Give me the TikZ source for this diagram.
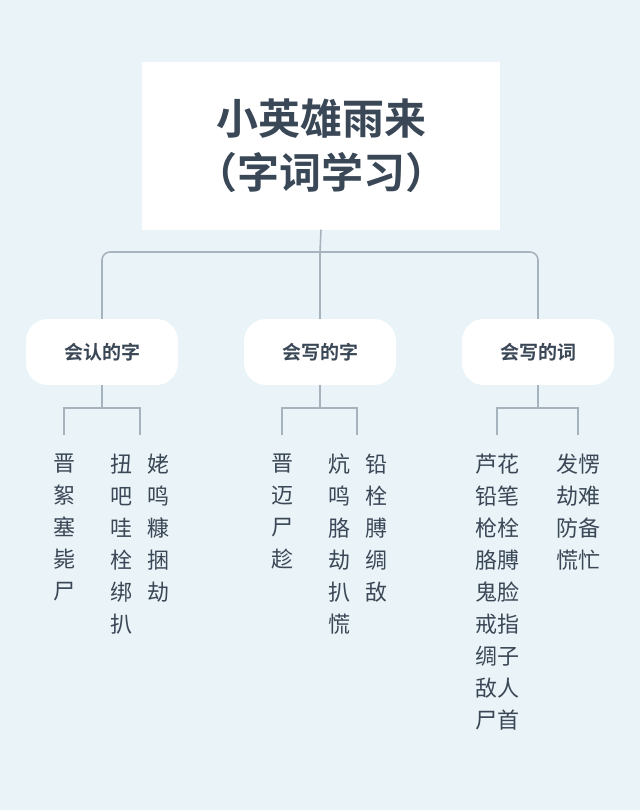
\documentclass[tikz,border=0pt]{standalone}
\usepackage{fontspec}
\setmainfont{Noto Sans CJK SC}
\newfontfamily\cjkb{Noto Sans CJK SC Bold}
\definecolor{bgc}{HTML}{EAF3F8}
\definecolor{ink}{HTML}{3A4756}
\definecolor{lnc}{HTML}{A7B3BC}
\tikzset{x=1pt,y=-1pt,
 conn/.style={draw=lnc,line width=1.6pt,rounded corners=8pt},
 catbox/.style={fill=white,rounded corners=22pt,minimum width=152pt,minimum height=66pt,font=\cjkb\fontsize{19}{19}\selectfont,text=ink},
 charcol/.style={text=ink,font=\fontsize{22}{32}\selectfont,align=center,anchor=north,inner sep=0pt}}
\begin{document}
\begin{tikzpicture}
\useasboundingbox (0,0) rectangle (640,810);
\fill[bgc] (0,0) rectangle (640,810);
\node[fill=white,minimum width=358pt,minimum height=167pt,text=ink,align=center,font=\cjkb\fontsize{42}{54}\selectfont] (title) at (321,146) {小英雄雨来\\（字词学习）};
\node[catbox] (c1) at (102,352) {会认的字};
\node[catbox] (c2) at (320,352) {会写的字};
\node[catbox] (c3) at (538,352) {会写的词};
\coordinate (j) at (320,252);
\draw[conn] (title.south) -- (j);
\draw[conn] (c1.north) -- (102,252) -- (538,252) -- (c3.north);
\draw[conn] (j) -- (c2.north);
% columns
\node[charcol] (a1) at (64,454) {晋\\絮\\塞\\毙\\尸};
\node[charcol] (a2) at (121,454) {扭\\吧\\哇\\栓\\绑\\扒};
\node[charcol] (a3) at (158,454) {姥\\鸣\\糠\\捆\\劫};
\node[charcol] (b1) at (282,454) {晋\\迈\\尸\\趁};
\node[charcol] (b2) at (339,454) {炕\\鸣\\胳\\劫\\扒\\慌};
\node[charcol] (b3) at (376,454) {铅\\栓\\膊\\绸\\敌};
\node[charcol] (d1) at (497,454) {芦花\\铅笔\\枪栓\\胳膊\\鬼脸\\戒指\\绸子\\敌人\\尸首};
\node[charcol] (d2) at (578,454) {发愣\\劫难\\防备\\慌忙};
\draw[conn,rounded corners=0pt] (c1.south) -- (102,408);
\draw[conn,rounded corners=0pt] (64,435) -- (64,408) -- (140,408) -- (140,435);
\draw[conn,rounded corners=0pt] (c2.south) -- (320,408);
\draw[conn,rounded corners=0pt] (282,435) -- (282,408) -- (357,408) -- (357,435);
\draw[conn,rounded corners=0pt] (c3.south) -- (538,408);
\draw[conn,rounded corners=0pt] (497,435) -- (497,408) -- (578,408) -- (578,435);
\end{tikzpicture}
\end{document}
